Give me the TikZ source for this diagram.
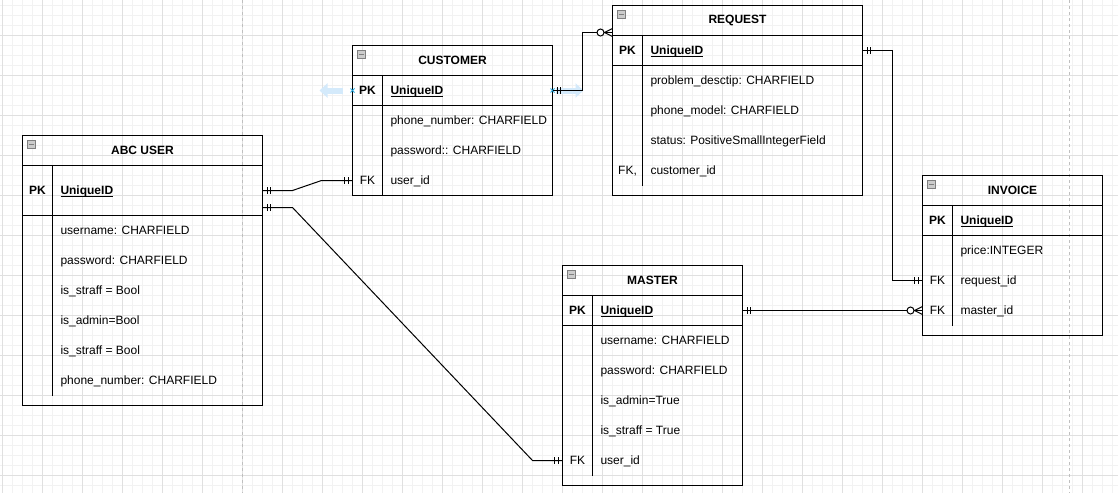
\documentclass[tikz,border=0pt]{standalone}
\usepackage{fontspec}
\setmainfont{Liberation Sans}
\usepackage{tikz}
\usetikzlibrary{positioning,arrows.meta,decorations.markings}
\definecolor{hintblue}{RGB}{212,234,251}
\definecolor{markblue}{RGB}{41,171,226}

\begin{document}
\begin{tikzpicture}[x=1pt,y=-1pt,
        every node/.style={font=\fontsize{12}{14}\selectfont, outer sep=0pt},
        minorgrid/.style={draw=black!5, line width=1pt},
        majorgrid/.style={draw=black!12, line width=1pt},
        pagebreak/.style={draw=black!25, dash pattern=on 3pt off 3pt, line width=1pt},
        entity/.style={draw, line width=1pt, anchor=north west, inner sep=0pt},
        head/.style={draw, line width=1pt, minimum height=30, anchor=north, inner sep=0pt, font=\fontsize{12}{14}\selectfont\bfseries},
        keyrow/.style={draw, line width=1pt, minimum height=30, inner sep=0pt},
        fieldrow/.style={minimum height=30, inner sep=0pt, anchor=north},
        keytxt/.style={inner sep=0pt, text height=8.6pt, text depth=0pt},
        fieldtxt/.style={inner sep=0pt, text height=8.6pt, text depth=0pt, anchor=west},
        idtxt/.style={fieldtxt, font=\fontsize{12}{14}\selectfont\bfseries},
        underline/.style={line width=1pt},
        collapse/.style={draw=black!50, fill=black!20, minimum size=8, inner sep=0pt, line width=0.8pt,
            path picture={\draw[line width=1pt] ([xshift=-2.5pt]path picture bounding box.center) -- ([xshift=2.5pt]path picture bounding box.center);}},
        link/.style={draw, line width=1pt},
        onestart/.style={postaction={decorate, decoration={markings,
            mark=at position 4.5pt with {\draw[line width=1pt] (0pt,-3.5pt) -- (0pt,3.5pt);},
            mark=at position 8pt with {\draw[line width=1pt] (0pt,-3.5pt) -- (0pt,3.5pt);}}}},
        oneend/.style={postaction={decorate, decoration={markings,
            mark=at position -8pt with {\draw[line width=1pt] (0pt,-3.5pt) -- (0pt,3.5pt);},
            mark=at position -4.5pt with {\draw[line width=1pt] (0pt,-3.5pt) -- (0pt,3.5pt);}}}},
        manyend/.style={postaction={decorate, decoration={markings,
            mark=at position -12pt with {\draw[line width=1pt, fill=white] (0pt,0pt) circle (3.5pt);},
            mark=at position -8pt with {\draw[line width=1pt] (8pt,4pt) -- (0pt,0pt) -- (8pt,-4pt);}}}},
        hint/.style={draw=hintblue, line width=6pt, -{Triangle[length=8pt,width=14pt]}},
        hintmark/.style={draw=markblue, line width=0.8pt}
    ]
        \useasboundingbox (0,0) rectangle (1118,493);
        \fill[white] (0,0) rectangle (1118,493);
        \foreach \gx in {2,12,...,1112} \draw[minorgrid] (\gx,0) -- (\gx,493);
        \foreach \gy in {5,15,...,485} \draw[minorgrid] (0,\gy) -- (1118,\gy);
        \foreach \gx in {2,42,...,1082} \draw[majorgrid] (\gx,0) -- (\gx,493);
        \foreach \gy in {35,75,...,475} \draw[majorgrid] (0,\gy) -- (1118,\gy);
        \draw[pagebreak] (242.5,0) -- (242.5,493);
        \draw[pagebreak] (1069.5,0) -- (1069.5,493);

        \node[entity, minimum width=240, minimum height=270] (user) at (22.5,135.5) {};
        \node[head, minimum width=240] (user-head) at (user.north) {ABC USER};
        \node[collapse] at ([xshift=9,yshift=-9]user.north west) {};
        \node[keyrow, minimum width=240, minimum height=50, below=0pt of user-head] (user-pk) {};
        \node[keytxt] at ([xshift=15]user-pk.west) {\textbf{PK}};
        \node[idtxt] (user-id) at ([xshift=38]user-pk.west) {UniqueID};
        \draw[underline] ([yshift=-2]user-id.south west) -- ([yshift=-2]user-id.south east);
        \foreach \k/\f [count=\i] in {{}/username: CHARFIELD, {}/password: CHARFIELD, {}/is\_straff = Bool,
                {}/is\_admin=Bool, {}/is\_straff = Bool, {}/phone\_number: CHARFIELD} {
            \node[fieldrow, minimum width=240] (user-r\i) at ([yshift={-30*(\i-1)}]user-pk.south) {};
            \node[keytxt] at ([xshift=15]user-r\i.west) {\k};
            \node[fieldtxt] at ([xshift=38]user-r\i.west) {\f};
        }
        \draw[line width=1pt] ([xshift=30]user-pk.north west) -- ([xshift=30]user-r6.south west);

        \node[entity, minimum width=200, minimum height=150] (customer) at (352.5,45.5) {};
        \node[head, minimum width=200] (customer-head) at (customer.north) {CUSTOMER};
        \node[collapse] at ([xshift=9,yshift=-9]customer.north west) {};
        \node[keyrow, minimum width=200, below=0pt of customer-head] (customer-pk) {};
        \node[keytxt] at ([xshift=15]customer-pk.west) {\textbf{PK}};
        \node[idtxt] (customer-id) at ([xshift=38]customer-pk.west) {UniqueID};
        \draw[underline] ([yshift=-2]customer-id.south west) -- ([yshift=-2]customer-id.south east);
        \foreach \k/\f [count=\i] in {{}/phone\_number: CHARFIELD, {}/password:: CHARFIELD, FK/user\_id} {
            \node[fieldrow, minimum width=200] (customer-r\i) at ([yshift={-30*(\i-1)}]customer-pk.south) {};
            \node[keytxt] at ([xshift=15]customer-r\i.west) {\k};
            \node[fieldtxt] at ([xshift=38]customer-r\i.west) {\f};
        }
        \draw[line width=1pt] ([xshift=30]customer-pk.north west) -- ([xshift=30]customer-r3.south west);

        \node[entity, minimum width=250, minimum height=190] (request) at (612.5,5.5) {};
        \node[head, minimum width=250] (request-head) at (request.north) {REQUEST};
        \node[collapse] at ([xshift=9,yshift=-9]request.north west) {};
        \node[keyrow, minimum width=250, below=0pt of request-head] (request-pk) {};
        \node[keytxt] at ([xshift=15]request-pk.west) {\textbf{PK}};
        \node[idtxt] (request-id) at ([xshift=38]request-pk.west) {UniqueID};
        \draw[underline] ([yshift=-2]request-id.south west) -- ([yshift=-2]request-id.south east);
        \foreach \k/\f [count=\i] in {{}/problem\_desctip: CHARFIELD, {}/phone\_model: CHARFIELD,
                {}/status: PositiveSmallIntegerField, {FK,}/customer\_id} {
            \node[fieldrow, minimum width=250] (request-r\i) at ([yshift={-30*(\i-1)}]request-pk.south) {};
            \node[keytxt] at ([xshift=15]request-r\i.west) {\k};
            \node[fieldtxt] at ([xshift=38]request-r\i.west) {\f};
        }
        \draw[line width=1pt] ([xshift=30]request-pk.north west) -- ([xshift=30]request-r4.south west);

        \node[entity, minimum width=180, minimum height=160] (invoice) at (922.5,175.5) {};
        \node[head, minimum width=180] (invoice-head) at (invoice.north) {INVOICE};
        \node[collapse] at ([xshift=9,yshift=-9]invoice.north west) {};
        \node[keyrow, minimum width=180, below=0pt of invoice-head] (invoice-pk) {};
        \node[keytxt] at ([xshift=15]invoice-pk.west) {\textbf{PK}};
        \node[idtxt] (invoice-id) at ([xshift=38]invoice-pk.west) {UniqueID};
        \draw[underline] ([yshift=-2]invoice-id.south west) -- ([yshift=-2]invoice-id.south east);
        \foreach \k/\f [count=\i] in {{}/price:INTEGER, FK/request\_id, FK/master\_id} {
            \node[fieldrow, minimum width=180] (invoice-r\i) at ([yshift={-30*(\i-1)}]invoice-pk.south) {};
            \node[keytxt] at ([xshift=15]invoice-r\i.west) {\k};
            \node[fieldtxt] at ([xshift=38]invoice-r\i.west) {\f};
        }
        \draw[line width=1pt] ([xshift=30]invoice-pk.north west) -- ([xshift=30]invoice-r3.south west);

        \node[entity, minimum width=180, minimum height=220] (master) at (562.5,265.5) {};
        \node[head, minimum width=180] (master-head) at (master.north) {MASTER};
        \node[collapse] at ([xshift=9,yshift=-9]master.north west) {};
        \node[keyrow, minimum width=180, below=0pt of master-head] (master-pk) {};
        \node[keytxt] at ([xshift=15]master-pk.west) {\textbf{PK}};
        \node[idtxt] (master-id) at ([xshift=38]master-pk.west) {UniqueID};
        \draw[underline] ([yshift=-2]master-id.south west) -- ([yshift=-2]master-id.south east);
        \foreach \k/\f [count=\i] in {{}/username: CHARFIELD, {}/password: CHARFIELD, {}/is\_admin=True,
                {}/is\_straff = True, FK/user\_id} {
            \node[fieldrow, minimum width=180] (master-r\i) at ([yshift={-30*(\i-1)}]master-pk.south) {};
            \node[keytxt] at ([xshift=15]master-r\i.west) {\k};
            \node[fieldtxt] at ([xshift=38]master-r\i.west) {\f};
        }
        \draw[line width=1pt] ([xshift=30]master-pk.north west) -- ([xshift=30]master-r5.south west);

        \draw[hint] ([xshift=-10]customer-pk.west) -- ([xshift=-33]customer-pk.west);
        \draw[hint] ([xshift=3]customer-pk.east) -- ([xshift=31]customer-pk.east);
        \draw[hintmark] ([xshift=-2,yshift=-2]customer-pk.west) -- ([xshift=2,yshift=2]customer-pk.west)
            ([xshift=-2,yshift=2]customer-pk.west) -- ([xshift=2,yshift=-2]customer-pk.west);
        \draw[hintmark] ([xshift=-2,yshift=-2]customer-pk.east) -- ([xshift=2,yshift=2]customer-pk.east)
            ([xshift=-2,yshift=2]customer-pk.east) -- ([xshift=2,yshift=-2]customer-pk.east);

        \draw[link, onestart, oneend] (user-pk.east) -- ++(30,0) -- ([xshift=-31]customer-r3.west) -- (customer-r3.west);
        \draw[link, onestart, oneend] ([yshift=-17]user-pk.east) -- ++(30,0) -- ([xshift=-30]master-r5.west) -- (master-r5.west);
        \draw[link, onestart, manyend] (customer-pk.east) -- ++(30,0) |- ([yshift=-12]request-head.west);
        \draw[link, onestart, oneend] (request-pk.east) -- ++(30,0) |- (invoice-r2.west);
        \draw[link, onestart, manyend] (master-pk.east) -- (invoice-r3.west);
    \end{tikzpicture}
\end{document}
